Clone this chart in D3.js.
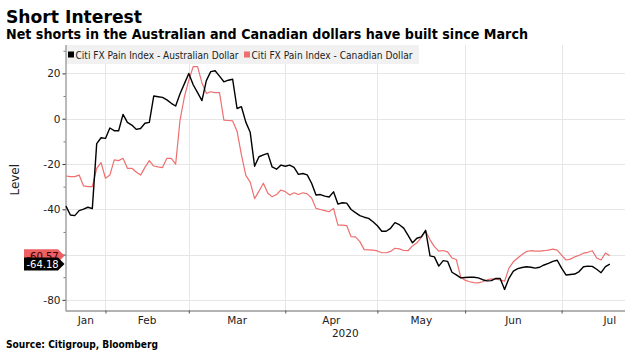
<!DOCTYPE html>
<html><head><meta charset="utf-8">
<script src="https://cdn.jsdelivr.net/npm/d3@7"></script>
<style>body{margin:0;background:#fff}svg{display:block}</style>
</head><body><svg id="c" width="633" height="357"></svg>
<script>
const title = "Short Interest";
const subtitle = "Net shorts in the Australian and Canadian dollars have built since March";
const source = "Source: Citigroup, Bloomberg";
const yLabel = "Level";
const seriesNames = ["Citi FX Pain Index - Australian Dollar", "Citi FX Pain Index - Canadian Dollar"];
const startDate = "2020-01-21";
const endDate = "2020-07-22";
const holidays = ["2020-02-17", "2020-04-10", "2020-05-25", "2020-07-03"];
const monthTicks = ["2020-02-03", "2020-03-02", "2020-04-01", "2020-05-01", "2020-06-01", "2020-07-01"];
const monthLabels = ["Jan", "Feb", "Mar", "Apr", "May", "Jun", "Jul"];
const nextMonthAfterLast = "2020-08-03";
const yearLabel = "2020";
const yTicks = [20, 0, -20, -40, -60, -80];
const yHiddenLabels = [-60];
const yMinorTicks = [30, 10, -10, -30, -50, -70];
// Citi FX Pain Index - Australian Dollar (one value per business day from startDate)
const audValues = [
 -38.6,-42.5,-42.8,-40.6,-39.9,-39.1,-39.7,-11.0,-8.4,-8.7,
 -4.1,-5.3,-5.3,1.9,-1.6,-2.8,-4.7,-4.3,-2.0,-1.6,
 10.0,9.7,9.4,8.3,6.8,5.6,11.0,15.5,20.0,15.0,
 11.5,8.0,16.8,20.8,21.2,18.8,16.3,17.0,17.4,4.5,
 5.3,-1.5,-6.0,-21.0,-16.8,-16.0,-15.3,-21.3,-22.3,-20.5,
 -21.0,-20.5,-21.5,-24.6,-24.2,-24.8,-28.5,-33.7,-33.5,-34.2,
 -34.6,-32.3,-37.7,-37.1,-37.3,-40.1,-41.5,-42.8,-43.5,-44.0,
 -45.5,-47.3,-49.7,-49.7,-48.4,-45.9,-46.8,-48.3,-51.5,-54.8,
 -52.8,-52.2,-49.3,-60.6,-61.0,-65.1,-62.7,-63.0,-67.8,-69.0,
 -70.3,-70.1,-70.0,-70.0,-70.3,-71.1,-71.6,-71.5,-70.5,-70.6,
 -75.4,-70.5,-67.3,-66.2,-65.7,-65.4,-65.6,-66.0,-65.6,-64.6,
 -63.9,-63.0,-62.5,-66.0,-69.0,-68.8,-68.6,-67.5,-65.4,-65.1,
 -65.2,-66.5,-68.0,-65.3,-64.18
];
// Citi FX Pain Index - Canadian Dollar
const cadValues = [
 -25.3,-25.6,-25.6,-24.9,-29.7,-30.0,-30.0,-21.9,-19.4,-26.3,
 -24.9,-18.2,-18.5,-17.5,-21.9,-21.9,-23.5,-24.9,-21.5,-18.5,
 -20.9,-21.3,-21.6,-17.5,-17.5,-20.1,-0.6,9.7,17.0,23.0,
 23.0,15.8,11.2,11.9,11.5,11.5,-0.6,-0.8,-1.0,-5.5,
 -16.0,-25.0,-28.0,-35.3,-32.0,-28.5,-32.8,-34.5,-33.5,-31.5,
 -32.2,-33.7,-32.7,-33.5,-32.7,-33.2,-35.0,-39.6,-40.1,-40.6,
 -41.1,-39.6,-47.0,-47.0,-47.2,-52.1,-52.2,-54.3,-57.8,-57.9,
 -58.0,-58.4,-59.2,-59.2,-58.6,-57.2,-57.5,-58.2,-58.3,-56.2,
 -54.8,-52.5,-49.6,-53.5,-56.5,-58.5,-58.2,-58.8,-61.5,-62.2,
 -70.0,-71.3,-72.0,-72.4,-72.5,-72.0,-71.2,-70.7,-70.9,-71.2,
 -71.8,-66.0,-63.2,-61.5,-60.0,-58.6,-58.3,-58.5,-58.5,-58.3,
 -58.0,-57.6,-58.0,-60.2,-62.4,-62.0,-61.0,-60.3,-59.4,-59.0,
 -58.3,-61.5,-62.4,-59.3,-60.57
];
const lastValues = [-64.18, -60.57];
const colors = ["#000000", "#ee6f6f"];

const svg = d3.select("#c");
const parse = d3.utcParse("%Y-%m-%d"), fmt = d3.utcFormat("%Y-%m-%d");
const hol = new Set(holidays);
const bdays = d3.utcDay.range(parse(startDate), parse("2020-08-31"))
  .filter(d => d.getUTCDay() % 6 !== 0 && !hol.has(fmt(d)));
const bIndex = new Map(bdays.map((d, i) => [fmt(d), i]));

const L = 65.5, R = 625, T = 45, B = 310.5;
const x = d3.scaleLinear().domain([0, bIndex.get(endDate)]).range([66, 623]);
const y = d3.scaleLinear().domain([-84.7, 32.55]).range([B, T]);
const xd = s => x(bIndex.get(s));

// titles
const font = "'DejaVu Sans', sans-serif";
svg.append("text").attr("x", 6).attr("y", 23).attr("font-family", font).attr("font-weight", "bold")
  .attr("font-size", 17.5).attr("textLength", 136).attr("lengthAdjust", "spacingAndGlyphs").attr("fill", "#000").text(title);
svg.append("text").attr("x", 6).attr("y", 39).attr("font-family", font).attr("font-weight", "bold")
  .attr("font-size", 13.2).attr("textLength", 522).attr("lengthAdjust", "spacingAndGlyphs").attr("fill", "#000").text(subtitle);
svg.append("text").attr("x", 6).attr("y", 348).attr("font-family", font).attr("font-weight", "bold")
  .attr("font-size", 9.8).attr("textLength", 152).attr("lengthAdjust", "spacingAndGlyphs").attr("fill", "#000").text(source);

// gridlines
const g = svg.append("g");
g.selectAll(".hg").data(yTicks).join("line")
  .attr("x1", L).attr("x2", R).attr("y1", d => Math.round(y(d)) + 0.5).attr("y2", d => Math.round(y(d)) + 0.5)
  .attr("stroke", "#e6e6e6").attr("stroke-width", 1);
g.selectAll(".vg").data(monthTicks).join("line")
  .attr("x1", d => Math.round(xd(d)) + 0.5).attr("x2", d => Math.round(xd(d)) + 0.5).attr("y1", T).attr("y2", B)
  .attr("stroke", "#e6e6e6").attr("stroke-width", 1);

// legend
svg.append("rect").attr("x", L + 0.5).attr("y", T).attr("width", 353).attr("height", 19).attr("fill", "#f1f1f1");
const legX = [68, 244], legW = [163, 161];
seriesNames.forEach((n, i) => {
  svg.append("rect").attr("x", legX[i]).attr("y", 51.5).attr("width", 6).attr("height", 6).attr("fill", colors[i]);
  svg.append("text").attr("x", legX[i] + 7.5).attr("y", 58.5)
    .attr("font-family", "'Liberation Sans Narrow','DejaVu Sans Condensed',sans-serif").attr("font-size", 10)
    .attr("textLength", legW[i]).attr("lengthAdjust", "spacingAndGlyphs").attr("fill", "#222").text(n);
});

// axes
const yAxis = d3.axisLeft(y).tickValues(yTicks).tickSize(3).tickPadding(2)
  .tickFormat(d => yHiddenLabels.includes(d) ? "" : d);
const ya = svg.append("g").attr("transform", `translate(${L},0)`).call(yAxis);
ya.select(".domain").attr("d", `M0.5,${T}V${B}`).attr("stroke", "#777");
ya.selectAll(".tick line").attr("stroke", "#333");
ya.selectAll(".tick text").attr("font-family", font).attr("font-size", 10.5).attr("fill", "#222");
const yMinor = d3.axisLeft(y).tickValues(yMinorTicks.filter(v => y(v) > T)).tickSize(2).tickFormat("");
const ym = svg.append("g").attr("transform", `translate(${L},0)`).call(yMinor);
ym.select(".domain").remove();
ym.selectAll(".tick line").attr("stroke", "#777");

const xAxis = d3.axisBottom(x).tickValues(monthTicks.map(s => bIndex.get(s))).tickSize(3).tickFormat("");
const xa = svg.append("g").attr("transform", `translate(0,${B})`).call(xAxis);
xa.select(".domain").attr("d", `M${L},0.5H${R}`).attr("stroke", "#666");
xa.selectAll(".tick line").attr("stroke", "#555");

const starts = [startDate, ...monthTicks], ends = [...monthTicks, nextMonthAfterLast];
svg.selectAll(".ml").data(monthLabels).join("text")
  .attr("x", (d, i) => x((bIndex.get(starts[i]) + bIndex.get(ends[i])) / 2))
  .attr("y", 324).attr("text-anchor", "middle").attr("font-family", font).attr("font-size", 10.5)
  .attr("fill", "#222").text(d => d);
svg.append("text").attr("x", (L + R) / 2).attr("y", 337).attr("text-anchor", "middle")
  .attr("font-family", font).attr("font-size", 10.5).attr("fill", "#222").text(yearLabel);

svg.append("text").attr("transform", `translate(19,${(T + B) / 2 + 2}) rotate(-90)`).attr("text-anchor", "middle")
  .attr("font-family", font).attr("font-size", 12).attr("fill", "#222").text(yLabel);

// lines
const line = d3.line().x((d, i) => x(i)).y(d => y(d));
svg.append("path").datum(cadValues).attr("d", line).attr("fill", "none").attr("stroke", colors[1])
  .attr("stroke-width", 1.2).attr("stroke-linejoin", "round");
svg.append("path").datum(audValues).attr("d", line).attr("fill", "none").attr("stroke", colors[0])
  .attr("stroke-width", 1.4).attr("stroke-linejoin", "round");

// value tags
const tagFill = ["#000000", "#ec5f62"], tagText = ["#ffffff", "#3a0000"];
[1, 0].forEach(i => {
  const cy = y(lastValues[i]);
  const h = 6.5;
  svg.append("path").attr("d", `M24,${cy - h}H58L64.5,${cy}L58,${cy + h}H24Z`).attr("fill", tagFill[i]);
  svg.append("text").attr("x", 26.5).attr("y", cy + 3.7).attr("font-family", font).attr("font-size", 10)
    .attr("fill", tagText[i]).text(lastValues[i].toFixed(2));
});
</script></body></html>
